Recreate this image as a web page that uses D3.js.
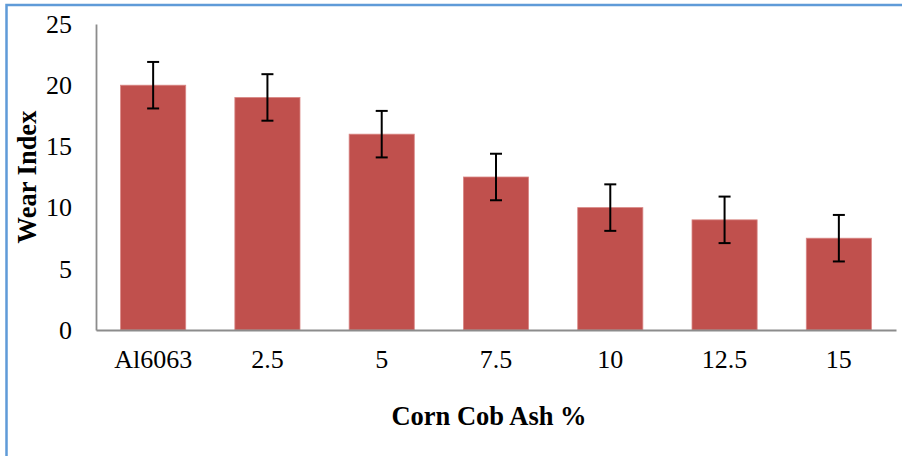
<!DOCTYPE html>
<html>
<head>
<meta charset="utf-8">
<script src="https://cdn.jsdelivr.net/npm/d3@7"></script>
<style>
html,body{margin:0;padding:0;background:#fff;}
svg{display:block;}
</style>
</head>
<body>
<svg id="chart" width="902" height="456"></svg>
<script>
const categories = ["Al6063", "2.5", "5", "7.5", "10", "12.5", "15"];
const wearIndex = [20, 19, 16, 12.5, 10, 9, 7.5];
const errors = [1.9, 1.9, 1.9, 1.9, 1.9, 1.9, 1.9];
const yTicks = [0, 5, 10, 15, 20, 25];
const xTitle = "Corn Cob Ash %";
const yTitle = "Wear Index";

const svg = d3.select("#chart");
const font = "'Liberation Serif','Times New Roman',serif";

// outer border
svg.append("rect")
  .attr("x", 6.5).attr("y", 5)
  .attr("width", 1000).attr("height", 1000)
  .attr("fill", "none")
  .attr("stroke", "#5f9bd8")
  .attr("stroke-width", 2.5);

const mLeft = 96, mRight = 896, mTop = 24, mBottom = 330;

const x = d3.scaleBand().domain(categories).range([mLeft, mRight])
  .paddingInner(0.43).paddingOuter(0.215);
const y = d3.scaleLinear().domain([0, 25]).range([mBottom, mTop]);

// bars
svg.append("g").selectAll("rect").data(categories).join("rect")
  .attr("x", d => x(d))
  .attr("y", (d, i) => y(wearIndex[i]))
  .attr("width", x.bandwidth())
  .attr("height", (d, i) => y(0) - y(wearIndex[i]))
  .attr("fill", "#c0504d")
  .attr("stroke", "#d98886")
  .attr("stroke-width", 0.8);

// error bars
const eg = svg.append("g").attr("stroke", "#000").attr("stroke-width", 2);
categories.forEach((c, i) => {
  const cx = x(c) + x.bandwidth() / 2;
  const hi = y(wearIndex[i] + errors[i]);
  const lo = y(wearIndex[i] - errors[i]);
  eg.append("line").attr("x1", cx).attr("x2", cx).attr("y1", hi).attr("y2", lo);
  eg.append("line").attr("x1", cx - 6).attr("x2", cx + 6).attr("y1", hi).attr("y2", hi);
  eg.append("line").attr("x1", cx - 6).attr("x2", cx + 6).attr("y1", lo).attr("y2", lo);
});

// axes
const yAxis = d3.axisLeft(y).tickValues(yTicks).tickSize(0).tickPadding(24);
const yg = svg.append("g").attr("transform", `translate(${mLeft},0)`).call(yAxis);
yg.select(".domain").attr("stroke", "#8c8c8c").attr("stroke-width", 1.8);
yg.selectAll("text").attr("font-family", font).attr("font-size", 26).attr("fill", "#000");

const xAxis = d3.axisBottom(x).tickSize(0).tickPadding(20);
const xg = svg.append("g").attr("transform", `translate(0,${mBottom})`).call(xAxis);
xg.select(".domain").attr("stroke", "#8c8c8c").attr("stroke-width", 1.8);
xg.selectAll("text").attr("font-family", font).attr("font-size", 26).attr("fill", "#000");

// titles
svg.append("text")
  .attr("x", 489).attr("y", 425)
  .attr("text-anchor", "middle")
  .attr("font-family", font).attr("font-weight", "bold").attr("font-size", 26.5)
  .text(xTitle);

svg.append("text")
  .attr("transform", `translate(36,${(mTop + mBottom) / 2}) rotate(-90)`)
  .attr("text-anchor", "middle")
  .attr("font-family", font).attr("font-weight", "bold").attr("font-size", 26.5)
  .text(yTitle);
</script>
</body>
</html>
